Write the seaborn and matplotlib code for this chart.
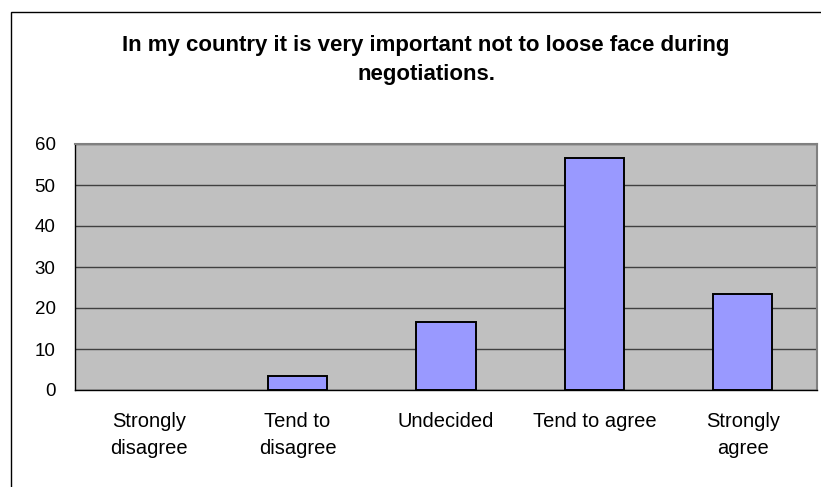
import matplotlib
matplotlib.use("Agg")
import matplotlib.pyplot as plt
from matplotlib.patches import Rectangle
import seaborn as sns
import pandas as pd

categories = ["Strongly\ndisagree", "Tend to\ndisagree", "Undecided", "Tend to agree", "Strongly\nagree"]
values = [0.0, 3.3, 16.7, 56.7, 23.3]
yticks = [0, 10, 20, 30, 40, 50, 60]
title = "In my country it is very important not to loose face during\nnegotiations."

sns.set_theme(style="white")
plt.rcParams["font.family"] = ["Liberation Sans", "DejaVu Sans"]
plt.rcParams["text.color"] = "black"
plt.rcParams["xtick.color"] = "black"
plt.rcParams["ytick.color"] = "black"

df = pd.DataFrame({"category": categories, "value": values})

fig = plt.figure(figsize=(8.21, 4.87), dpi=100)
fig.patch.set_facecolor("white")
ax = fig.add_axes([75 / 821, 97 / 487, 742 / 821, 246 / 487])
ax.set_facecolor("#C0C0C0")

sns.barplot(data=df, x="category", y="value", ax=ax, color="#9999FF",
            edgecolor="black", linewidth=1.4, width=0.4, saturation=1)
# a zero-height bar has no visible outline
for patch in ax.patches:
    if patch.get_height() == 0:
        patch.set_linewidth(0)

ax.set_ylim(0, 60)
ax.set_xlim(-0.5, len(categories) - 0.5)
ax.set_yticks(yticks)
ax.set_yticklabels([str(t) for t in yticks], fontsize=13.5)
ax.yaxis.grid(True, color="#404040", linewidth=1)
ax.set_axisbelow(True)

# category labels centred, ticks on category boundaries
ax.set_xticks(range(len(categories)))
ax.set_xticklabels(categories, fontsize=14.5, linespacing=1.5)
ax.tick_params(axis="x", length=0, pad=16)
ax.set_xticks([i + 0.5 for i in range(-1, len(categories))], minor=True)
ax.tick_params(axis="x", which="minor", length=5, width=1, color="black", direction="out")
ax.tick_params(axis="y", length=5, width=1, color="black", direction="out", pad=9)
ax.set_xlabel("")
ax.set_ylabel("")

for side in ["left", "bottom"]:
    ax.spines[side].set_color("black")
    ax.spines[side].set_linewidth(1)
for side in ["top", "right"]:
    ax.spines[side].set_color("#808080")
    ax.spines[side].set_linewidth(1.5)
    ax.spines[side].set_visible(True)

fig.text(426 / 821, 1 - 60 / 487, title, ha="center", va="center",
         fontsize=16, fontweight="bold", linespacing=1.5)

# chart area border
fig.patches.append(Rectangle((11 / 821, -0.1), 1.0, 1 - 12 / 487 + 0.1,
                             transform=fig.transFigure, fill=False,
                             edgecolor="black", linewidth=1))

fig.savefig("out.png", dpi=100)
